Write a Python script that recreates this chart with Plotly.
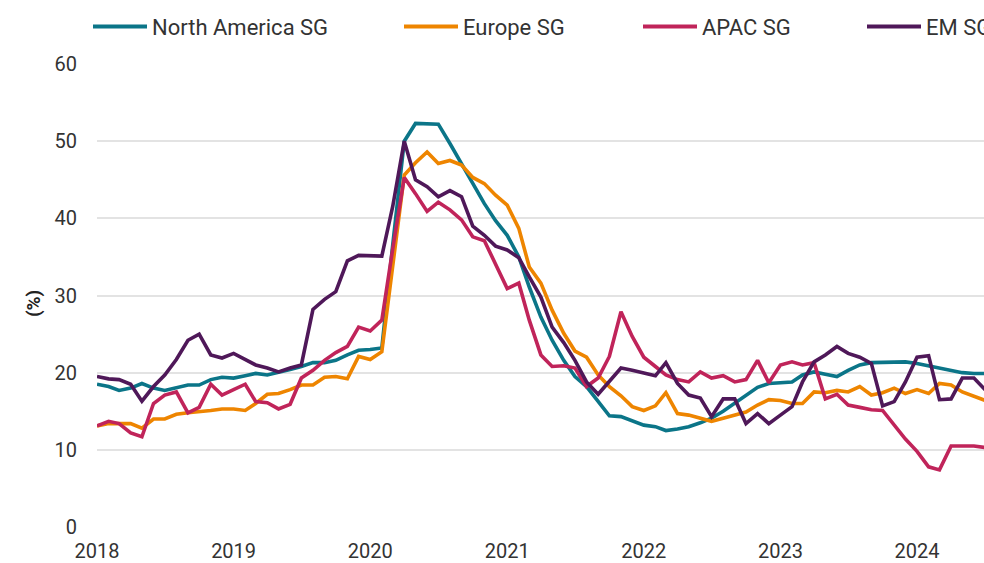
import pandas as pd
import plotly.graph_objects as go

dates = pd.date_range("2018-01-01", periods=79, freq="MS")

series_names = ["North America SG", "Europe SG", "APAC SG", "EM SG"]
series_colors = ["#0B7588", "#EE8500", "#C0245A", "#4F1859"]

north_america = [
    18.5, 18.2, 17.7, 18.0, 18.6, 18.0, 17.7, 18.0, 18.4, 18.4, 19.1, 19.4,
    19.3, 19.6, 19.9, 19.7, 20.0, 20.4, 20.8, 21.3, 21.3, 21.6, 22.3, 22.9,
    23.0, 23.2, 36.5, 50.0, 52.3, 52.2, 52.2, 49.7, 47.1, 44.5, 41.9, 39.7,
    37.8, 35.0, 31.1, 27.2, 24.2, 21.6, 19.5, 18.2, 16.25, 14.4, 14.3, 13.7,
    13.2, 13.0, 12.5, 12.7, 13.0, 13.5, 14.1, 15.0, 16.0, 17.1, 18.1, 18.6,
    18.7, 18.8, 19.7, 20.1, 19.8, 19.5, 20.3, 21.0, 21.3, 21.3, 21.3, 21.4,
    21.2, 20.9, 20.6, 20.3, 20.0, 19.9, 19.9,
]
europe = [
    13.1, 13.4, 13.4, 13.4, 12.8, 14.0, 14.0, 14.6, 14.8, 14.9, 15.1, 15.3,
    15.3, 15.1, 16.0, 17.2, 17.3, 17.8, 18.4, 18.4, 19.4, 19.5, 19.2, 22.1,
    21.7, 22.7, 34.0, 45.6, 47.2, 48.6, 47.1, 47.5, 46.9, 45.3, 44.5, 43.0,
    41.7, 38.7, 33.7, 31.6, 28.1, 25.1, 22.8, 22.0, 19.7, 18.2, 17.0, 15.6,
    15.1, 15.7, 17.4, 14.7, 14.5, 14.1, 13.7, 14.1, 14.5, 14.9, 15.8, 16.5,
    16.4, 16.0, 16.0, 17.5, 17.4, 17.7, 17.5, 18.2, 17.1, 17.4, 18.0, 17.3,
    17.8, 17.3, 18.6, 18.4, 17.5, 17.0, 16.4,
]
apac = [
    13.1, 13.7, 13.4, 12.2, 11.7, 16.0, 17.1, 17.5, 14.8, 15.5, 18.5, 17.1,
    17.8, 18.5, 16.25, 16.1, 15.3, 15.9, 19.3, 20.3, 21.6, 22.6, 23.4, 25.9,
    25.4, 26.8, 36.0, 45.3, 43.2, 40.9, 42.1, 41.1, 39.8, 37.6, 37.1, 34.1,
    30.9, 31.6, 26.8, 22.3, 20.8, 20.9, 20.6, 18.2, 19.3, 22.1, 27.9, 24.7,
    22.0, 20.8, 19.7, 19.1, 18.8, 20.1, 19.3, 19.6, 18.8, 19.1, 21.6, 18.7,
    21.0, 21.4, 21.0, 21.3, 16.6, 17.2, 15.8, 15.5, 15.2, 15.1, 13.2, 11.4,
    9.8, 7.8, 7.4, 10.5, 10.5, 10.5, 10.3,
]
em = [
    19.5, 19.2, 19.1, 18.5, 16.3, 18.2, 19.7, 21.7, 24.2, 25.0, 22.3, 21.9,
    22.5, 21.7, 21.0, 20.6, 20.1, 20.6, 21.0, 28.2, 29.5, 30.5, 34.5, 35.2,
    35.1, 35.1, 41.5, 50.0, 45.0, 44.1, 42.8, 43.6, 42.8, 39.0, 37.8, 36.4,
    35.9, 34.9, 32.4, 29.8, 25.9, 23.9, 21.6, 18.8, 17.2, 18.8, 20.6, 20.3,
    20.0, 19.6, 21.3, 18.6, 17.1, 16.7, 14.3, 16.6, 16.6, 13.4, 14.7, 13.4,
    14.5, 15.6, 18.8, 21.4, 22.3, 23.4, 22.5, 22.0, 21.2, 15.7, 16.25, 18.8,
    22.0, 22.2, 16.5, 16.6, 19.3, 19.3, 17.8,
]

year_ticks = ["2018", "2019", "2020", "2021", "2022", "2023", "2024"]
y_ticks = [0, 10, 20, 30, 40, 50, 60]

FONT = "Roboto, 'Liberation Sans', sans-serif"
TEXT = "#333333"

fig = go.Figure()
for name, vals, col in zip(series_names, [north_america, europe, apac, em], series_colors):
    fig.add_trace(go.Scatter(x=dates, y=vals, name=name, mode="lines",
                             line=dict(color=col, width=3.6), showlegend=False))

# Figure slightly larger than the window: the original is cropped at the right
W, H = 990, 575
L, R, T = 97, 0, 63.5
B = H - 527.3
pw, ph = W - L - R, H - T - B


def px(x):
    return (x - L) / pw


def py(y):
    return (H - B - y) / ph


# Manual legend (its last entry is cut by the window edge, as in the original)
leg_x = [93, 404, 643, 867]
leg_y = 26
for name, col, x0 in zip(series_names, series_colors, leg_x):
    fig.add_shape(type="line", xref="paper", yref="paper",
                  x0=px(x0), x1=px(x0 + 54), y0=py(leg_y), y1=py(leg_y),
                  line=dict(color=col, width=4))
    fig.add_annotation(xref="paper", yref="paper", x=px(x0 + 57), y=py(leg_y + 1),
                       text=name, showarrow=False, xanchor="left", yanchor="middle",
                       font=dict(family=FONT, size=22, color=TEXT))

fig.add_annotation(xref="paper", yref="paper", x=px(33), y=py(304), text="<b>(%)</b>",
                   textangle=-90, showarrow=False, xanchor="center", yanchor="middle",
                   font=dict(family=FONT, size=19, color="#222222"))

fig.update_layout(
    width=W, height=H,
    margin=dict(l=L, r=R, t=T, b=B),
    paper_bgcolor="white", plot_bgcolor="white",
    font=dict(family=FONT, size=20, color=TEXT),
    xaxis=dict(
        range=["2018-01-01", "2024-07-14"],
        tickvals=[f"{y}-01-01" for y in year_ticks], ticktext=year_ticks,
        showgrid=False, zeroline=False, showline=False, ticks="",
        tickfont=dict(size=20, color=TEXT), ticklabelstandoff=10,
    ),
    yaxis=dict(
        range=[0, 60], tickvals=y_ticks, showgrid=True, gridcolor="#E3E3E3",
        gridwidth=1.5, zeroline=False, showline=False, ticks="",
        tickfont=dict(size=20, color=TEXT), ticklabelstandoff=19,
    ),
)

fig.write_html(
    "out.html",
    config={"displayModeBar": False},
    post_script=(
        "document.body.style.margin='0';"
        "document.body.style.overflow='hidden';"
        "document.documentElement.style.overflow='hidden';"
    ),
)
